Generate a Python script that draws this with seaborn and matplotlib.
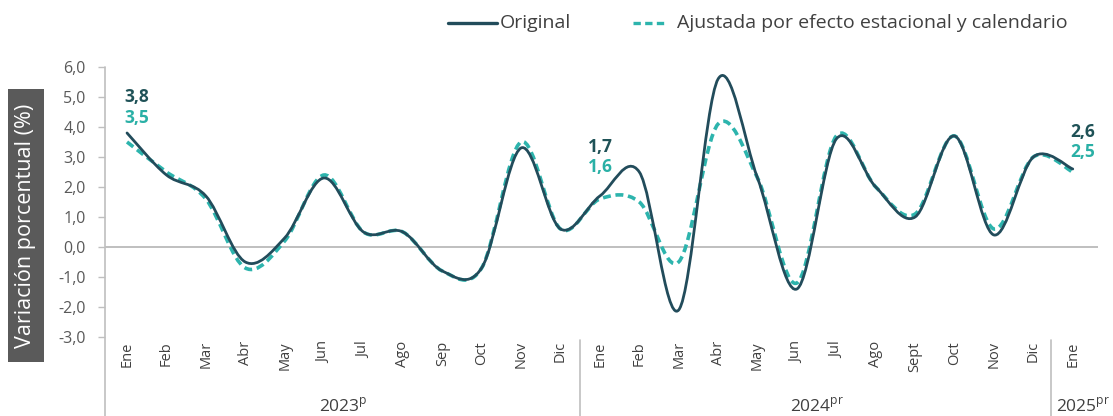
import numpy as np
import pandas as pd
import matplotlib
matplotlib.use("Agg")
import matplotlib.pyplot as plt
from matplotlib.path import Path
from matplotlib.patches import PathPatch, Rectangle
from matplotlib.lines import Line2D
import seaborn as sns

# Datos (variación porcentual anual)
meses = ["Ene", "Feb", "Mar", "Abr", "May", "Jun", "Jul", "Ago", "Sep", "Oct", "Nov", "Dic",
         "Ene", "Feb", "Mar", "Abr", "May", "Jun", "Jul", "Ago", "Sept", "Oct", "Nov", "Dic",
         "Ene"]
anios = ["2023$^{\\mathrm{p}}$", "2024$^{\\mathrm{pr}}$", "2025$^{\\mathrm{pr}}$"]
original = [3.8, 2.4, 1.7, -0.5, 0.3, 2.3, 0.5, 0.5, -0.8, -0.7, 3.3, 0.6,
            1.7, 2.5, -2.1, 5.6, 2.3, -1.4, 3.6, 2.0, 1.0, 3.7, 0.4, 3.0,
            2.6]
ajustada = [3.5, 2.5, 1.6, -0.7, 0.2, 2.4, 0.5, 0.5, -0.8, -0.7, 3.5, 0.6,
            1.6, 1.5, -0.5, 4.1, 2.3, -1.2, 3.7, 2.0, 1.1, 3.7, 0.6, 3.0,
            2.5]
etiquetados = [0, 12, 24]  # meses con etiqueta de valor

C_ORIG = "#224C5B"
C_AJUS = "#2DB4AD"
C_ORIG_TXT = "#1F5257"
C_AJUS_TXT = "#2AB0A6"
GRIS = "#BFBFBF"

df = pd.DataFrame({"mes": meses, "original": original, "ajustada": ajustada})
df["pos"] = np.arange(len(df))


def curva_suave(ax, x, y, **kw):
    # línea suavizada estilo Excel (Bezier por tramos)
    pts = np.column_stack([x, y]).astype(float)
    prev = np.vstack([pts[:1], pts[:-1]])
    nxt = np.vstack([pts[1:], pts[-1:]])
    tang = (nxt - prev) / 6.0
    verts = [pts[0]]
    codes = [Path.MOVETO]
    for i in range(len(pts) - 1):
        verts += [pts[i] + tang[i], pts[i + 1] - tang[i + 1], pts[i + 1]]
        codes += [Path.CURVE4] * 3
    ax.add_patch(PathPatch(Path(verts, codes), fill=False, **kw))


sns.set_theme(style="white")
plt.rcParams["font.family"] = ["Open Sans", "DejaVu Sans"]
plt.rcParams["mathtext.fontset"] = "custom"
plt.rcParams["mathtext.rm"] = "Open Sans"

fig = plt.figure(figsize=(11.13, 4.16), dpi=100)
ax = fig.add_axes([0.0943, 0.19, 0.8922, 0.649])

ax.axhline(0, color=GRIS, lw=1.4, zorder=1)
curva_suave(ax, df["pos"], df["ajustada"], edgecolor=C_AJUS, lw=2.6,
            linestyle=(0, (2.2, 1.3)), zorder=2)
curva_suave(ax, df["pos"], df["original"], edgecolor=C_ORIG, lw=2.0,
            capstyle="round", zorder=3)

ax.set_xlim(-0.56, 24.64)
ax.set_ylim(-3, 6)
for s in ax.spines.values():
    s.set_visible(False)

yt = np.arange(-3, 7)
ax.set_yticks(yt)
ax.set_yticklabels([f"{v:.1f}".replace(".", ",") for v in yt])
ax.tick_params(axis="y", left=True, length=5, width=1, color=GRIS,
               labelcolor="#595959", labelsize=11.5, pad=9)
ax.set_xticks(df["pos"])
ax.set_xticklabels(df["mes"], rotation=90)
ax.tick_params(axis="x", bottom=False, length=0, labelcolor="#404040",
               labelsize=10.5, pad=3)

# eje vertical y separadores de año
trans = ax.get_xaxis_transform()
ax.plot([-0.56, -0.56], [1, -0.31], transform=trans, color=GRIS, lw=1.2, clip_on=False)
for xs in [11.5, 23.45]:
    ax.plot([xs, xs], [-0.01, -0.31], transform=trans, color=GRIS, lw=1.2, clip_on=False)

for xc, txt in zip([5.5, 17.5, 24.25], anios):
    ax.text(xc, -0.255, txt, transform=trans, ha="center", va="center",
            fontsize=12.5, color="#404040")

# etiquetas de valores
offs = {0: (10, 36, 15), 12: (0, 49, 29), 24: (10, 37, 17)}
for i in etiquetados:
    dx, dy1, dy2 = offs[i]
    ax.annotate(f"{original[i]:.1f}".replace(".", ","), (i, original[i]),
                xytext=(dx, dy1), textcoords="offset pixels", ha="center", va="center",
                fontsize=12.5, fontweight="bold", color=C_ORIG_TXT)
    ax.annotate(f"{ajustada[i]:.1f}".replace(".", ","), (i, original[i]),
                xytext=(dx, dy2), textcoords="offset pixels", ha="center", va="center",
                fontsize=12.5, fontweight="bold", color=C_AJUS_TXT)

# título del eje Y en recuadro gris
W, H = 1113, 416
fig.patches.append(Rectangle((8 / W, 1 - 362 / H), 36 / W, 273 / H,
                             transform=fig.transFigure, facecolor="#5A5A5A",
                             edgecolor="none", zorder=0))
fig.text(26 / W, 1 - 225.5 / H, "Variación porcentual (%)", rotation=90,
         ha="center", va="center", color="white", fontsize=15.5)

# leyenda
ly = 1 - 23 / H
fig.lines.append(Line2D([448 / W, 497 / W], [ly, ly], transform=fig.transFigure,
                        color=C_ORIG, lw=2.4))
fig.text(500 / W, ly, "Original", ha="left", va="center", fontsize=14, color="#404040")
fig.lines.append(Line2D([633 / W, 665 / W], [ly, ly], transform=fig.transFigure,
                        color=C_AJUS, lw=2.4, linestyle=(0, (2.2, 1.3))))
fig.text(677 / W, ly, "Ajustada por efecto estacional y calendario", ha="left",
         va="center", fontsize=14, color="#404040")

fig.savefig("out.png", dpi=100)
